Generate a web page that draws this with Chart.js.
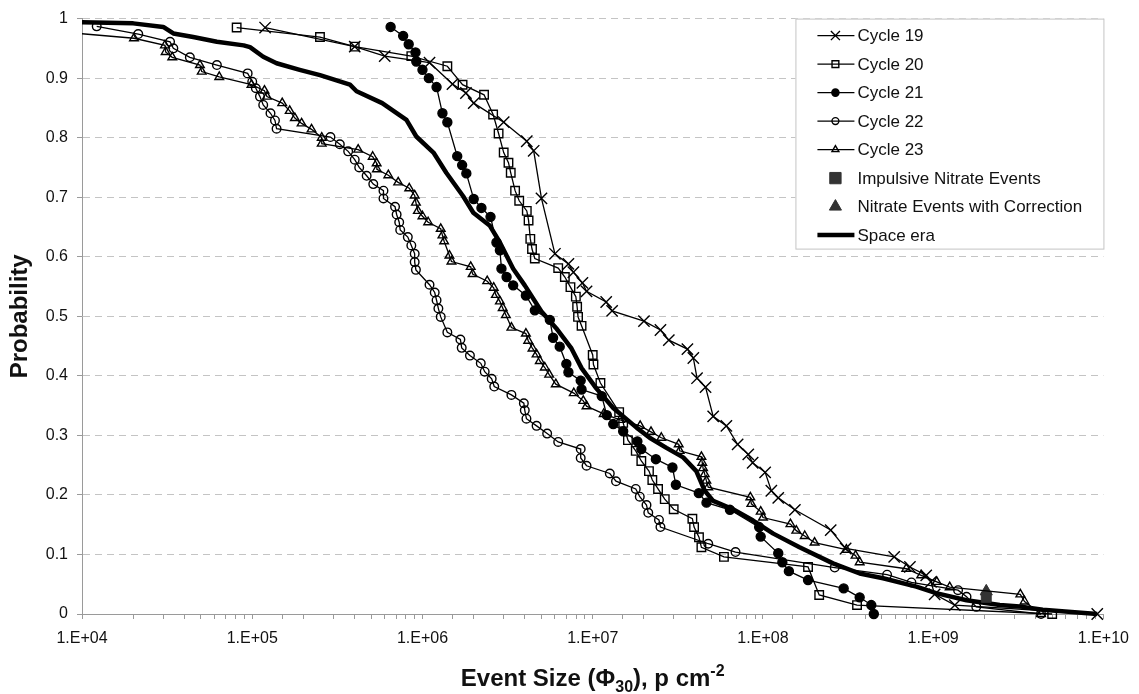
<!DOCTYPE html>
<html>
<head>
<meta charset="utf-8">
<script src="https://cdn.jsdelivr.net/npm/chart.js@4"></script>
<style>
  html, body { margin: 0; padding: 0; background: #fff; }
  #wrap { width: 1139px; height: 694px; }
</style>
</head>
<body>
<div id="wrap"><canvas id="eventChart" width="1139" height="694"></canvas></div>
<script>
// event size (p cm-2) and probability
var cycle19X = [1.19e5, 4.0e5, 6.0e5, 1.1e6, 1.5e6, 1.8e6, 2.0e6, 3.0e6, 4.1e6, 4.5e6, 5.0e6, 6.0e6, 7.2e6, 7.7e6, 8.7e6, 9.2e6, 1.2e7, 1.3e7, 2.0e7, 2.5e7, 2.8e7, 3.6e7, 3.9e7, 4.1e7, 4.6e7, 5.1e7, 6.1e7, 7.1e7, 8.2e7, 8.7e7, 1.03e8, 1.12e8, 1.23e8, 1.54e8, 2.5e8, 3.06e8, 5.9e8, 7.3e8, 9.1e8, 9.7e8, 1.02e9, 1.34e9, 9.2e9];
var cycle19Y = [0.985, 0.953, 0.937, 0.926, 0.890, 0.875, 0.858, 0.826, 0.794, 0.778, 0.698, 0.605, 0.588, 0.574, 0.556, 0.542, 0.524, 0.509, 0.492, 0.477, 0.460, 0.445, 0.430, 0.396, 0.381, 0.332, 0.316, 0.285, 0.268, 0.254, 0.238, 0.207, 0.195, 0.175, 0.141, 0.110, 0.096, 0.079, 0.065, 0.054, 0.033, 0.015, 0.0];

var cycle20X = [8.1e4, 2.5e5, 4.0e5, 8.6e5, 1.4e6, 1.72e6, 2.3e6, 2.6e6, 2.8e6, 3.0e6, 3.2e6, 3.3e6, 3.5e6, 3.7e6, 4.1e6, 4.2e6, 4.3e6, 4.4e6, 4.57e6, 6.27e6, 6.86e6, 7.4e6, 7.96e6, 8.1e6, 8.2e6, 8.6e6, 1.0e7, 1.01e7, 1.11e7, 1.43e7, 1.51e7, 1.61e7, 1.79e7, 1.93e7, 2.14e7, 2.24e7, 2.42e7, 2.65e7, 2.99e7, 3.85e7, 3.94e7, 4.21e7, 4.35e7, 5.9e7, 1.84e8, 2.14e8, 3.57e8, 5.0e9];
var cycle20Y = [0.985, 0.969, 0.953, 0.937, 0.920, 0.889, 0.872, 0.839, 0.807, 0.775, 0.758, 0.741, 0.711, 0.694, 0.677, 0.661, 0.630, 0.613, 0.597, 0.581, 0.566, 0.549, 0.533, 0.516, 0.499, 0.484, 0.435, 0.419, 0.388, 0.339, 0.321, 0.292, 0.274, 0.257, 0.240, 0.225, 0.210, 0.193, 0.176, 0.160, 0.146, 0.129, 0.112, 0.096, 0.079, 0.032, 0.015, 0.0];

var cycle21X = [6.5e5, 7.7e5, 8.3e5, 9.1e5, 9.2e5, 1.0e6, 1.09e6, 1.21e6, 1.31e6, 1.40e6, 1.60e6, 1.71e6, 1.81e6, 2.0e6, 2.22e6, 2.51e6, 2.72e6, 2.85e6, 2.91e6, 3.12e6, 3.41e6, 4.05e6, 4.57e6, 5.6e6, 5.85e6, 6.4e6, 7.0e6, 7.2e6, 8.5e6, 8.6e6, 1.13e7, 1.21e7, 1.32e7, 1.51e7, 1.83e7, 1.93e7, 2.35e7, 2.94e7, 3.08e7, 4.2e7, 4.66e7, 6.4e7, 9.5e7, 9.7e7, 1.23e8, 1.30e8, 1.42e8, 1.84e8, 2.98e8, 3.7e8, 4.33e8, 4.48e8];
var cycle21Y = [0.986, 0.971, 0.957, 0.943, 0.928, 0.914, 0.900, 0.885, 0.841, 0.826, 0.769, 0.754, 0.740, 0.697, 0.682, 0.667, 0.624, 0.611, 0.580, 0.566, 0.552, 0.535, 0.510, 0.494, 0.464, 0.449, 0.420, 0.406, 0.392, 0.377, 0.366, 0.334, 0.319, 0.307, 0.290, 0.277, 0.260, 0.246, 0.217, 0.203, 0.187, 0.175, 0.146, 0.130, 0.102, 0.087, 0.072, 0.057, 0.043, 0.028, 0.015, 0.0];

var cycle22X = [1.22e4, 2.14e4, 3.29e4, 3.44e4, 4.3e4, 6.2e4, 9.4e4, 1.0e5, 1.05e5, 1.11e5, 1.16e5, 1.28e5, 1.36e5, 1.39e5, 2.88e5, 3.27e5, 3.66e5, 4.0e5, 4.25e5, 4.7e5, 5.14e5, 5.9e5, 5.9e5, 6.9e5, 7.05e5, 7.3e5, 7.4e5, 8.2e5, 8.6e5, 9.0e5, 9.0e5, 9.15e5, 1.1e6, 1.18e6, 1.21e6, 1.24e6, 1.28e6, 1.40e6, 1.67e6, 1.70e6, 1.90e6, 2.2e6, 2.32e6, 2.55e6, 2.64e6, 3.33e6, 3.94e6, 3.99e6, 4.08e6, 4.68e6, 5.4e6, 6.27e6, 8.5e6, 8.5e6, 9.2e6, 1.26e7, 1.37e7, 1.79e7, 1.89e7, 2.07e7, 2.12e7, 2.45e7, 2.5e7, 4.77e7, 6.9e7, 2.64e8, 5.36e8, 7.45e8, 1.4e9, 1.57e9, 1.79e9, 4.3e9];
var cycle22Y = [0.987, 0.974, 0.961, 0.950, 0.935, 0.922, 0.908, 0.894, 0.883, 0.869, 0.855, 0.841, 0.829, 0.815, 0.801, 0.789, 0.777, 0.763, 0.750, 0.736, 0.722, 0.711, 0.698, 0.684, 0.671, 0.658, 0.645, 0.633, 0.619, 0.605, 0.591, 0.578, 0.553, 0.540, 0.527, 0.513, 0.499, 0.473, 0.461, 0.447, 0.434, 0.421, 0.407, 0.395, 0.382, 0.368, 0.354, 0.342, 0.328, 0.316, 0.303, 0.289, 0.277, 0.262, 0.249, 0.236, 0.223, 0.210, 0.197, 0.183, 0.170, 0.158, 0.146, 0.118, 0.104, 0.078, 0.066, 0.053, 0.040, 0.029, 0.012, 0.0];

var cycle23X = [8.0e3, 2.02e4, 3.07e4, 3.1e4, 3.39e4, 4.93e4, 5.05e4, 6.4e4, 9.9e4, 1.18e5, 1.22e5, 1.5e5, 1.66e5, 1.78e5, 1.95e5, 2.23e5, 2.56e5, 2.56e5, 4.19e5, 5.1e5, 5.38e5, 5.4e5, 6.3e5, 7.2e5, 8.36e5, 9.0e5, 9.15e5, 9.4e5, 1.0e6, 1.08e6, 1.28e6, 1.31e6, 1.34e6, 1.44e6, 1.48e6, 1.92e6, 1.97e6, 2.4e6, 2.62e6, 2.7e6, 2.85e6, 2.96e6, 3.09e6, 3.33e6, 4.05e6, 4.18e6, 4.43e6, 4.68e6, 4.89e6, 5.23e6, 5.55e6, 6.07e6, 7.74e6, 8.8e6, 9.2e6, 1.16e7, 1.45e7, 1.9e7, 2.2e7, 2.53e7, 3.2e7, 3.24e7, 4.35e7, 4.4e7, 4.45e7, 4.55e7, 4.65e7, 4.77e7, 8.43e7, 8.55e7, 9.7e7, 1.0e8, 1.45e8, 1.57e8, 1.76e8, 2.01e8, 3.09e8, 3.5e8, 3.7e8, 6.95e8, 8.5e8, 1.05e9, 1.25e9, 3.25e9, 3.44e9, 4.3e9];
var cycle23Y = [0.977, 0.967, 0.955, 0.944, 0.935, 0.922, 0.911, 0.902, 0.889, 0.879, 0.869, 0.858, 0.845, 0.833, 0.824, 0.814, 0.800, 0.790, 0.780, 0.768, 0.757, 0.747, 0.737, 0.725, 0.715, 0.703, 0.691, 0.677, 0.668, 0.658, 0.647, 0.636, 0.626, 0.602, 0.592, 0.583, 0.571, 0.559, 0.548, 0.536, 0.525, 0.514, 0.502, 0.481, 0.471, 0.459, 0.446, 0.436, 0.425, 0.414, 0.402, 0.386, 0.371, 0.358, 0.349, 0.336, 0.326, 0.316, 0.306, 0.296, 0.285, 0.274, 0.264, 0.254, 0.245, 0.235, 0.224, 0.213, 0.196, 0.185, 0.172, 0.162, 0.151, 0.140, 0.131, 0.120, 0.108, 0.098, 0.087, 0.076, 0.065, 0.054, 0.045, 0.033, 0.021, 0.0];

var impulsiveX = [2.05e9];
var impulsiveY = [0.028];
var correctedX = [2.05e9];
var correctedY = [0.038];

var spaceEraX = [1.0e4, 2.0e4, 3.0e4, 3.44e4, 4.5e4, 6.2e4, 8.9e4, 9.7e4, 1.16e5, 1.39e5, 1.9e5, 2.5e5, 3.75e5, 4.1e5, 5.8e5, 8.05e5, 9.2e5, 1.16e6, 1.38e6, 1.73e6, 1.99e6, 2.49e6, 2.85e6, 3.41e6, 3.99e6, 5.0e6, 6.1e6, 7.5e6, 8.6e6, 1.05e7, 1.32e7, 1.81e7, 2.16e7, 2.71e7, 3.4e7, 4.06e7, 4.55e7, 5.1e7, 6.67e7, 8.75e7, 1.15e8, 1.64e8, 2.58e8, 3.7e8, 5.08e8, 7.96e8, 1.04e9, 1.57e9, 2.46e9, 3.37e9, 4.4e9, 9.2e9];
var spaceEraY = [0.994, 0.992, 0.986, 0.975, 0.969, 0.961, 0.955, 0.952, 0.936, 0.925, 0.914, 0.905, 0.889, 0.878, 0.858, 0.830, 0.802, 0.775, 0.741, 0.702, 0.674, 0.652, 0.624, 0.580, 0.552, 0.508, 0.480, 0.446, 0.413, 0.379, 0.346, 0.313, 0.296, 0.279, 0.263, 0.240, 0.207, 0.190, 0.176, 0.157, 0.135, 0.112, 0.085, 0.068, 0.060, 0.046, 0.035, 0.023, 0.015, 0.012, 0.007, 0.0];

var seriesNames = ['Cycle 19', 'Cycle 20', 'Cycle 21', 'Cycle 22', 'Cycle 23', 'Impulsive Nitrate Events', 'Nitrate Events with Correction', 'Space era'];
var xTickLabels = ['1.E+04', '1.E+05', '1.E+06', '1.E+07', '1.E+08', '1.E+09', '1.E+10'];
var yTickLabels = ['0', '0.1', '0.2', '0.3', '0.4', '0.5', '0.6', '0.7', '0.8', '0.9', '1'];

var FONT = "'Liberation Sans', Arial, sans-serif";

function pairs(xs, ys) {
    return xs.map(function (x, i) { return { x: x, y: ys[i] }; });
}

var clipBox = { left: 0, top: 12, right: 12, bottom: 12 };

function cycleSet(label, xs, ys, style, radius, fill) {
    return {
        label: label,
        data: pairs(xs, ys),
        showLine: true,
        borderColor: '#000',
        borderWidth: 1.3,
        pointStyle: style,
        pointRadius: radius,
        pointBorderWidth: 1.4,
        pointBorderColor: '#000',
        pointBackgroundColor: fill,
        backgroundColor: fill,
        clip: clipBox
    };
}

// legend drawn in a framed box inside the plot, like the original
var boxLegend = {
    id: 'boxLegend',
    afterDraw: function (chart) {
        var ctx = chart.ctx;
        var area = chart.chartArea;
        var w = 309, h = 231;
        var left = area.right - w + 1, top = area.top;
        ctx.save();
        ctx.fillStyle = '#fff';
        ctx.fillRect(left, top, w, h);
        ctx.strokeStyle = '#c4c4c4';
        ctx.lineWidth = 1;
        ctx.strokeRect(left + 0.5, top + 0.5, w - 1, h - 1);
        ctx.font = '17px ' + FONT;
        ctx.textBaseline = 'middle';
        chart.data.datasets.forEach(function (ds, i) {
            var y = top + 17 + i * 28.5;
            var mx = left + 40;
            if (ds.showLine) {
                ctx.strokeStyle = '#000';
                ctx.lineWidth = ds.borderWidth;
                ctx.beginPath();
                ctx.moveTo(left + 22, y);
                ctx.lineTo(left + 59, y);
                ctx.stroke();
            }
            if (ds.pointRadius > 0) {
                ctx.strokeStyle = ds.pointBorderColor;
                ctx.fillStyle = ds.pointBackgroundColor;
                ctx.lineWidth = ds.pointBorderWidth;
                Chart.helpers.drawPoint(ctx, {
                    pointStyle: ds.pointStyle,
                    radius: ds.legendRadius || ds.pointRadius * 0.8,
                    rotation: 0,
                    borderWidth: ds.pointBorderWidth
                }, mx, y);
            }
            ctx.fillStyle = '#111';
            ctx.fillText(ds.label, left + 62, y + 1);
        });
        ctx.restore();
    }
};

// x title with subscript and superscript
var xAxisTitle = {
    id: 'xAxisTitle',
    afterDraw: function (chart) {
        var ctx = chart.ctx;
        var area = chart.chartArea;
        var parts = [
            { t: 'Event Size (\u03A6', size: 24, dy: 0 },
            { t: '30', size: 16, dy: 6 },
            { t: '), p cm', size: 24, dy: 0 },
            { t: '-2', size: 16, dy: -10 }
        ];
        ctx.save();
        ctx.fillStyle = '#111';
        ctx.textBaseline = 'alphabetic';
        var total = 0;
        parts.forEach(function (p) {
            ctx.font = 'bold ' + p.size + 'px ' + FONT;
            p.w = ctx.measureText(p.t).width;
            total += p.w;
        });
        var x = (area.left + area.right) / 2 - total / 2;
        var base = 686;
        parts.forEach(function (p) {
            ctx.font = 'bold ' + p.size + 'px ' + FONT;
            ctx.fillText(p.t, x, base + p.dy);
            x += p.w;
        });
        ctx.restore();
    }
};

var datasets = [
    cycleSet(seriesNames[0], cycle19X, cycle19Y, 'crossRot', 8, 'rgba(0,0,0,0)'),
    cycleSet(seriesNames[1], cycle20X, cycle20Y, 'rect', 6, 'rgba(0,0,0,0)'),
    cycleSet(seriesNames[2], cycle21X, cycle21Y, 'circle', 4.5, '#000'),
    cycleSet(seriesNames[3], cycle22X, cycle22Y, 'circle', 4.3, 'rgba(0,0,0,0)'),
    cycleSet(seriesNames[4], cycle23X, cycle23Y, 'triangle', 5, 'rgba(0,0,0,0)'),
    {
        label: seriesNames[5],
        data: pairs(impulsiveX, impulsiveY),
        showLine: false,
        pointStyle: 'rect',
        pointRadius: 7,
        legendRadius: 8,
        pointBorderWidth: 1,
        pointBorderColor: '#333',
        pointBackgroundColor: '#333',
        clip: clipBox
    },
    {
        label: seriesNames[6],
        data: pairs(correctedX, correctedY),
        showLine: false,
        pointStyle: 'triangle',
        pointRadius: 7,
        legendRadius: 7,
        pointBorderWidth: 1,
        pointBorderColor: '#333',
        pointBackgroundColor: '#333',
        clip: clipBox
    },
    {
        label: seriesNames[7],
        data: pairs(spaceEraX, spaceEraY),
        showLine: true,
        borderColor: '#000',
        borderWidth: 4.5,
        pointRadius: 0,
        borderJoinStyle: 'round',
        clip: clipBox
    }
];

var ctx = document.getElementById('eventChart').getContext('2d');
var eventChart = new Chart(ctx, {
    type: 'scatter',
    data: { datasets: datasets },
    options: {
        responsive: false,
        animation: false,
        devicePixelRatio: 1,
        layout: { padding: { top: 15, right: 35, bottom: 0, left: 0 } },
        plugins: {
            legend: { display: false },
            tooltip: { enabled: false }
        },
        scales: {
            x: {
                type: 'logarithmic',
                min: 1e4,
                max: 1e10,
                afterFit: function (scale) { scale.height = 80; },
                grid: { drawOnChartArea: false, tickLength: 5, tickColor: '#9a9a9a' },
                border: { color: '#9a9a9a', width: 1 },
                ticks: {
                    autoSkip: false,
                    maxRotation: 0,
                    padding: 10,
                    color: '#111',
                    font: { family: FONT, size: 16 },
                    callback: function (value) {
                        var e = Math.log10(value);
                        var r = Math.round(e);
                        return Math.abs(e - r) < 1e-6 ? xTickLabels[r - 4] : '';
                    }
                }
            },
            y: {
                min: 0,
                max: 1,
                afterFit: function (scale) { scale.width = 82; },
                grid: { color: '#c4c4c4', tickLength: 5, tickColor: '#9a9a9a' },
                border: { color: '#9a9a9a', width: 1, dash: [7, 5] },
                ticks: {
                    stepSize: 0.1,
                    padding: 9,
                    color: '#111',
                    font: { family: FONT, size: 16 },
                    callback: function (value, i) { return yTickLabels[i]; }
                },
                title: {
                    display: true,
                    text: 'Probability',
                    color: '#111',
                    font: { family: FONT, size: 24, weight: 'bold' },
                    padding: { top: 6, bottom: 0 }
                }
            }
        }
    },
    plugins: [boxLegend, xAxisTitle]
});
</script>
</body>
</html>
